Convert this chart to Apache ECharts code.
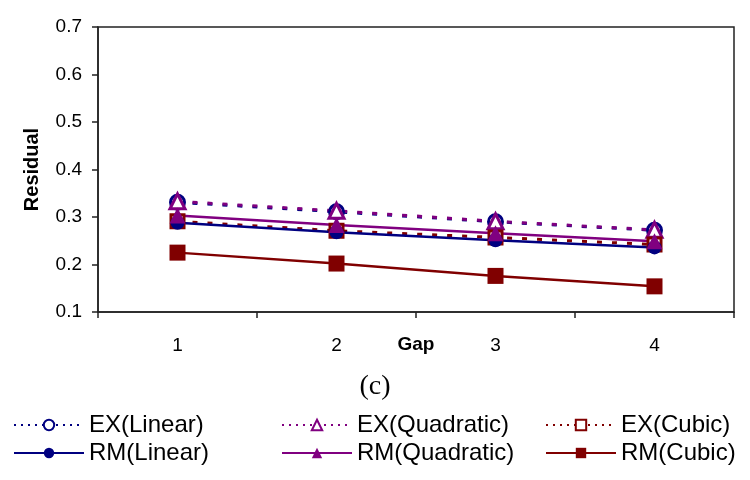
<!DOCTYPE html>
<html>
<head>
<meta charset="utf-8">
<script src="https://cdn.jsdelivr.net/npm/echarts@6/dist/echarts.min.js"></script>
<style>html,body{margin:0;padding:0;background:#fff}#c{width:750px;height:480px}</style>
</head>
<body>
<div id="c"></div>
<script>
var gaps = ['1', '2', '3', '4'];
var exLinear    = [0.331, 0.311, 0.290, 0.272];
var exQuadratic = [0.333, 0.313, 0.291, 0.273];
var exCubic     = [0.291, 0.271, 0.257, 0.242];
var rmLinear    = [0.288, 0.268, 0.251, 0.236];
var rmQuadratic = [0.303, 0.283, 0.266, 0.249];
var rmCubic     = [0.225, 0.202, 0.176, 0.154];
var yMin = 0.1, yMax = 0.7, yStep = 0.1;

var FONT = "'Liberation Sans', Arial, sans-serif";
var NAVY = '#000080', PURPLE = '#800080', MAROON = '#800000';

function exSeries(name, data, color, symbol, size) {
  return {
    name: name, type: 'line', data: data,
    symbol: symbol, symbolSize: size,
    lineStyle: {color: color, width: 3, type: [5, 10]},
    itemStyle: {color: '#fff', borderColor: color, borderWidth: 3}
  };
}
function rmSeries(name, data, color, symbol, size) {
  return {
    name: name, type: 'line', data: data,
    symbol: symbol, symbolSize: size,
    lineStyle: {color: color, width: 2.5, type: 'solid'},
    itemStyle: {color: color, borderColor: color, borderWidth: 0}
  };
}
function legendAt(left, exName, rmName) {
  return {
    orient: 'vertical', left: left, top: 413, padding: 0,
    itemWidth: 70, itemHeight: 13, itemGap: 4,
    data: [
      {name: exName, lineStyle: {type: [2, 5], width: 2}, itemStyle: {borderWidth: 2}},
      {name: rmName}
    ],
    textStyle: {fontFamily: FONT, fontSize: 24, color: '#000'},
    selectedMode: false
  };
}

var chart = echarts.init(document.getElementById('c'), null, {renderer: 'canvas'});
chart.setOption({
  animation: false,
  backgroundColor: '#fff',
  grid: {left: 98, right: 16, top: 27, bottom: 168, show: true, borderColor: '#222', borderWidth: 1.5, backgroundColor: 'transparent'},
  xAxis: {
    type: 'category', data: gaps, boundaryGap: true,
    name: 'Gap', nameLocation: 'middle', nameGap: 23, nameMoveOverlap: false,
    nameTextStyle: {fontFamily: FONT, fontSize: 19, fontWeight: 'bold', color: '#000'},
    axisLine: {lineStyle: {color: '#222', width: 1.5}},
    axisTick: {show: true, length: 6, lineStyle: {color: '#222', width: 1.5}},
    axisLabel: {fontFamily: FONT, fontSize: 19, color: '#000', margin: 24}
  },
  yAxis: {
    type: 'value', min: yMin, max: yMax, interval: yStep,
    name: 'Residual', nameLocation: 'middle', nameGap: 56, nameRotate: 90,
    nameTextStyle: {fontFamily: FONT, fontSize: 20, fontWeight: 'bold', color: '#000'},
    axisLine: {show: true, lineStyle: {color: '#222', width: 1.5}},
    axisTick: {show: true, length: 6, lineStyle: {color: '#222', width: 1.5}},
    splitLine: {show: false},
    axisLabel: {fontFamily: FONT, fontSize: 19, color: '#000', margin: 16,
      formatter: function (v) { return v.toFixed(1); }}
  },
  legend: [
    legendAt(13, 'EX(Linear)', 'RM(Linear)'),
    legendAt(281, 'EX(Quadratic)', 'RM(Quadratic)'),
    legendAt(545, 'EX(Cubic)', 'RM(Cubic)')
  ],
  graphic: [{
    type: 'text', left: 'center', top: 373,
    style: {text: '(c)', fontFamily: "'Liberation Serif', 'Times New Roman', serif", fontSize: 28, fill: '#000'}
  }],
  series: [
    exSeries('EX(Linear)', exLinear, NAVY, 'circle', 14),
    exSeries('EX(Quadratic)', exQuadratic, PURPLE, 'triangle', 15),
    exSeries('EX(Cubic)', exCubic, MAROON, 'rect', 13),
    rmSeries('RM(Linear)', rmLinear, NAVY, 'circle', 14),
    rmSeries('RM(Quadratic)', rmQuadratic, PURPLE, 'triangle', 16),
    rmSeries('RM(Cubic)', rmCubic, MAROON, 'rect', 16)
  ]
});
</script>
</body>
</html>
